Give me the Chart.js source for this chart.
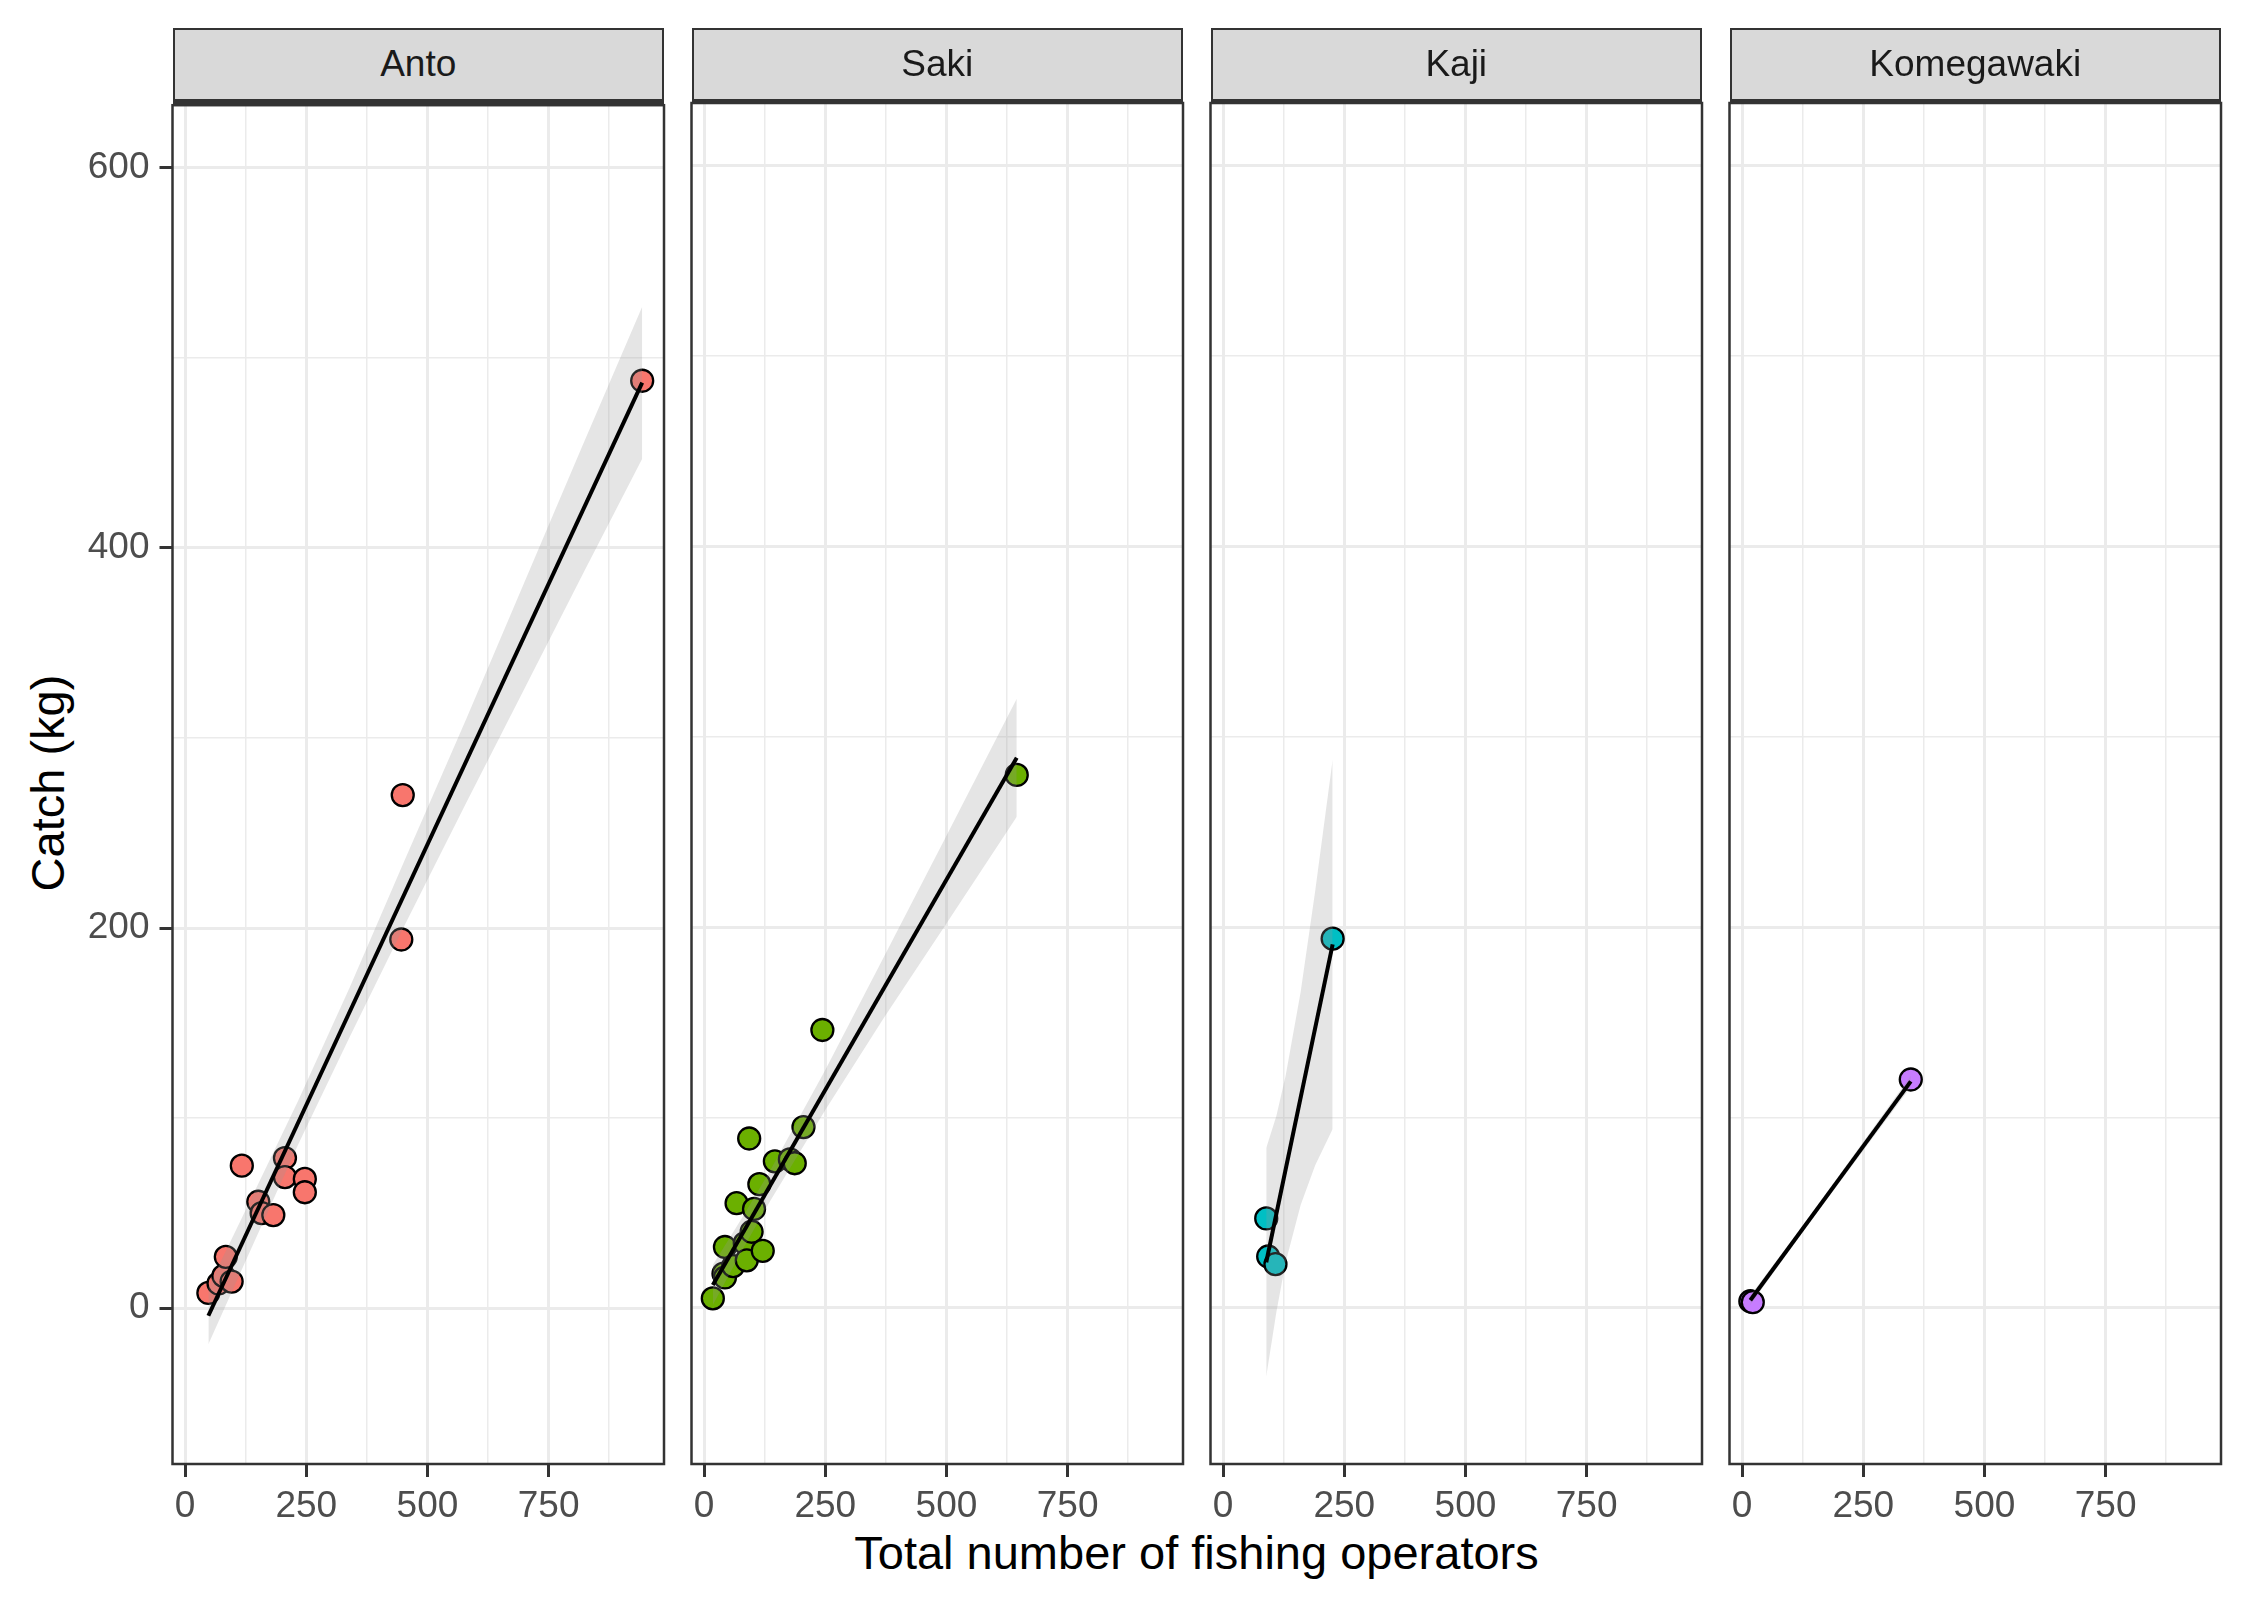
<!DOCTYPE html>
<html>
<head>
<meta charset="utf-8">
<script src="https://cdn.jsdelivr.net/npm/chart.js@4.4.1/dist/chart.umd.min.js"></script>
<style>
body { margin: 0; width: 2241px; height: 1601px; position: relative; overflow: hidden; background: #fff; font-family: "Liberation Sans", Arial, sans-serif; }
.panel { position: absolute; z-index: 1; }
.strip { position: absolute; z-index: 2; box-sizing: border-box; background: #d9d9d9; border: 2.5px solid #333; border-bottom-width: 5px; color: #1a1a1a; font-size: 37px; display: flex; align-items: center; justify-content: center; }
.xtitle { position: absolute; left: 172px; width: 2049px; top: 1529px; height: 48px; line-height: 48px; text-align: center; font-size: 47px; color: #000; }
.ytitle { position: absolute; left: -252px; top: 758px; width: 600px; height: 50px; line-height: 50px; text-align: center; font-size: 47px; color: #000; transform: rotate(-90deg); }
</style>
</head>
<body>
<div class="ytitle">Catch (kg)</div>
<div class="xtitle">Total number of fishing operators</div>
<script>
const sites = ['Anto', 'Saki', 'Kaji', 'Komegawaki'];
const colors = ['#F8766D', '#6BB000', '#00BFC4', '#C77CFF'];

const xMajor = [0, 250, 500, 750];
const xGrid = [0, 125, 250, 375, 500, 625, 750, 875];
const yMajor = [0, 200, 400, 600];
const yGrid = [0, 100, 200, 300, 400, 500, 600];

// points
const antoX = [48, 69, 79, 96, 84, 117, 151, 158, 182, 206, 206, 247, 247, 446, 449, 943];
const antoY = [8, 13, 17, 14, 27, 75, 56, 50, 49, 79, 69, 68, 61, 194, 270, 488];
const sakiX = [18, 40, 43, 43, 60, 67, 84, 88, 98, 103, 114, 121, 146, 177, 187, 93, 205, 244, 645];
const sakiY = [5, 18, 16, 32, 22, 55, 34, 25, 40, 52, 65, 30, 77, 78, 76, 89, 95, 146, 280];
const kajiX = [89, 93, 108, 226];
const kajiY = [47, 27, 23, 194];
const komeX = [17, 22, 348];
const komeY = [3.5, 3, 120];

// fitted lines (ends)
const antoFitX = [48, 943];
const antoFitY = [-4, 487];
const sakiFitX = [18, 645];
const sakiFitY = [12, 289];
const kajiFitX = [89, 226];
const kajiFitY = [24, 191];
const komeFitX = [17, 348];
const komeFitY = [4, 119];

// confidence bands
const antoBandX = [48, 120, 233, 340, 450, 580, 700, 820, 943];
const antoBandLo = [-19, 22, 86, 143, 200, 266, 326, 386, 447];
const antoBandHi = [11, 49, 109, 169, 234, 310, 382, 454, 527];
const sakiBandX = [18, 80, 136, 250, 370, 500, 645];
const sakiBandLo = [1.5, 31, 56, 104, 152, 202, 258];
const sakiBandHi = [22.5, 48, 72, 125, 184, 248, 320];
const kajiBandX = [89, 110, 129, 160, 190, 226];
const kajiBandLo = [-36, -2, 24, 54, 75, 94];
const kajiBandHi = [84, 101, 122, 166, 219, 288];
const komeBandX = [17, 129, 348];
const komeBandLo = [1.5, 41.5, 116];
const komeBandHi = [6.5, 44.5, 122];

const pointsX = [antoX, sakiX, kajiX, komeX];
const pointsY = [antoY, sakiY, kajiY, komeY];
const fitX = [antoFitX, sakiFitX, kajiFitX, komeFitX];
const fitY = [antoFitY, sakiFitY, kajiFitY, komeFitY];
const bandX = [antoBandX, sakiBandX, kajiBandX, komeBandX];
const bandLo = [antoBandLo, sakiBandLo, kajiBandLo, komeBandLo];
const bandHi = [antoBandHi, sakiBandHi, kajiBandHi, komeBandHi];

const panelLeft = [172.5, 691.5, 1210.5, 1729.5];
const panelW = 491.5;
const plotTop = 102.5;
const plotH = 1361;
const axisW = 172.5;
const pad = 30;

Chart.defaults.font.family = '"Liberation Sans", Arial, sans-serif';

function pares(xs, ys) {
    return xs.map((x, i) => ({x: x, y: ys[i]}));
}

const panelBorder = {
    id: 'panelBorder',
    afterDraw(chart) {
        const a = chart.chartArea;
        const ctx = chart.ctx;
        ctx.save();
        ctx.strokeStyle = '#333333';
        ctx.lineWidth = 2.5;
        ctx.strokeRect(a.left, a.top, a.right - a.left, a.bottom - a.top);
        ctx.restore();
    }
};

function dibujarPanel(i) {
    const strip = document.createElement('div');
    strip.className = 'strip';
    strip.style.left = panelLeft[i] + 'px';
    strip.style.top = '27.5px';
    strip.style.width = panelW + 'px';
    strip.style.height = '76.5px';
    strip.textContent = sites[i];
    document.body.appendChild(strip);

    const wrap = document.createElement('div');
    wrap.className = 'panel';
    wrap.style.left = (panelLeft[i] - axisW) + 'px';
    wrap.style.top = (plotTop - pad) + 'px';
    wrap.style.width = (axisW + panelW + pad) + 'px';
    wrap.style.height = (pad + plotH + 110) + 'px';
    const canvas = document.createElement('canvas');
    wrap.appendChild(canvas);
    document.body.appendChild(wrap);

    const first = i === 0;

    new Chart(canvas.getContext('2d'), {
        type: 'scatter',
        data: {
            datasets: [
                {
                    label: sites[i],
                    data: pares(pointsX[i], pointsY[i]),
                    backgroundColor: colors[i],
                    borderColor: '#000',
                    borderWidth: 2.3,
                    pointRadius: 11,
                    order: 3
                },
                {
                    type: 'line',
                    data: pares(bandX[i], bandLo[i]),
                    borderWidth: 0,
                    pointRadius: 0,
                    fill: false,
                    order: 2
                },
                {
                    type: 'line',
                    data: pares(bandX[i], bandHi[i]),
                    borderWidth: 0,
                    pointRadius: 0,
                    fill: '-1',
                    backgroundColor: 'rgba(153,153,153,0.25)',
                    order: 2
                },
                {
                    type: 'line',
                    data: pares(fitX[i], fitY[i]),
                    borderColor: '#000',
                    borderWidth: 4,
                    pointRadius: 0,
                    fill: false,
                    order: 1
                }
            ]
        },
        options: {
            responsive: true,
            maintainAspectRatio: false,
            animation: false,
            layout: { padding: { top: pad, right: pad, left: 0, bottom: 0 } },
            plugins: { legend: { display: false }, tooltip: { enabled: false } },
            scales: {
                x: {
                    type: 'linear',
                    min: -26,
                    max: 988,
                    border: { display: false },
                    afterBuildTicks: s => { s.ticks = xGrid.map(v => ({value: v})); },
                    afterFit: s => { s.height = 110; },
                    grid: {
                        color: '#EBEBEB',
                        lineWidth: c => (c.tick && xMajor.includes(c.tick.value)) ? 3 : 1.5,
                        tickColor: c => (c.tick && xMajor.includes(c.tick.value)) ? '#333333' : 'rgba(0,0,0,0)',
                        tickWidth: 3,
                        tickLength: 13
                    },
                    ticks: {
                        autoSkip: false,
                        maxRotation: 0,
                        padding: 8,
                        color: '#4D4D4D',
                        font: { size: 37 },
                        callback: v => xMajor.includes(v) ? String(v) : ''
                    }
                },
                y: {
                    min: -82,
                    max: 633,
                    border: { display: false },
                    afterBuildTicks: s => { s.ticks = yGrid.map(v => ({value: v})); },
                    afterFit: s => { s.width = axisW; },
                    grid: {
                        color: '#EBEBEB',
                        lineWidth: c => (c.tick && yMajor.includes(c.tick.value)) ? 3 : 1.5,
                        tickColor: c => (first && c.tick && yMajor.includes(c.tick.value)) ? '#333333' : 'rgba(0,0,0,0)',
                        tickWidth: 3,
                        tickLength: 13
                    },
                    ticks: {
                        display: first,
                        autoSkip: false,
                        padding: 10,
                        color: '#4D4D4D',
                        font: { size: 37 },
                        callback: v => yMajor.includes(v) ? String(v) : ''
                    }
                }
            }
        },
        plugins: [panelBorder]
    });
}

for (let i = 0; i < sites.length; i++) {
    dibujarPanel(i);
}
</script>
</body>
</html>
